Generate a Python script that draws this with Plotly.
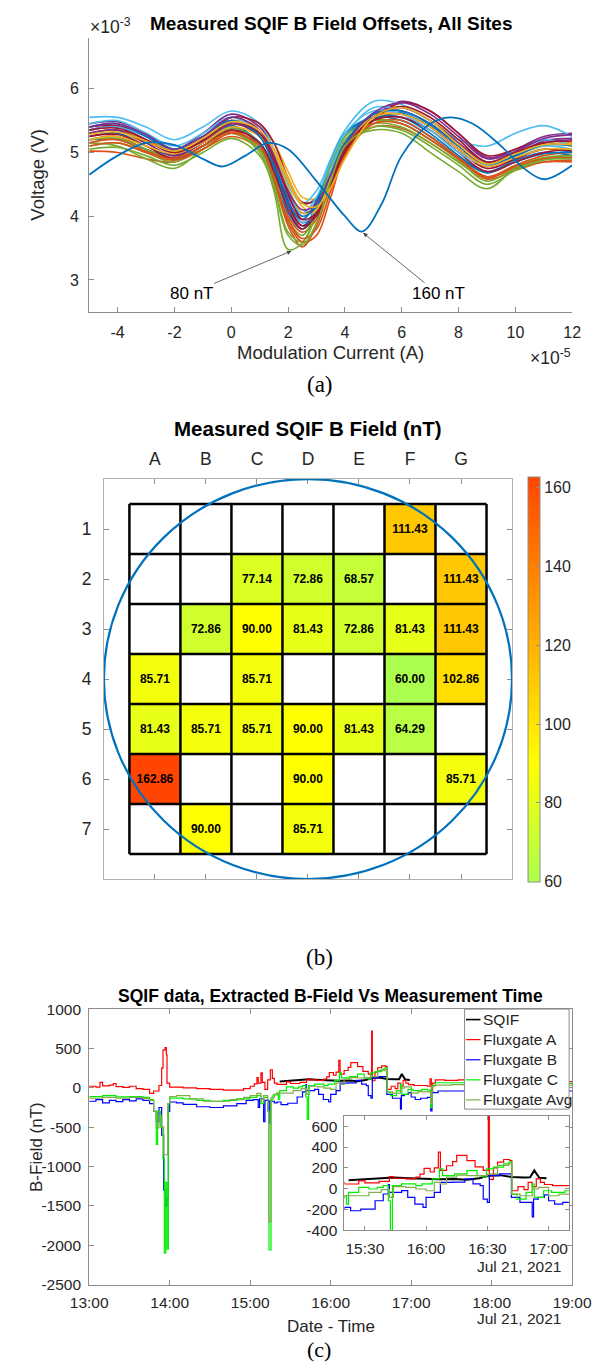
import plotly.graph_objects as go

W, H = 610, 1368
FONT = "Liberation Sans, Arial, Helvetica, sans-serif"
SERIF = "Liberation Serif, Times New Roman, serif"
TXT = "#262626"
AX = "#8c8c8c"


def fx(p):
    return p / W


def fy(p):
    return 1 - p / H


def num_label(v):
    return str(v).replace("−", "-")


# ---------------- Panel (a): SQIF voltage vs modulation current ----------------
# current in units of 1e-5 A, voltage in units of 1e-3 V
current_grid = [-5, -4, -3, -2, -1, 0, 1, 1.5, 2, 2.5, 3, 3.5, 4, 5, 6, 7, 8, 9, 10, 11, 12]

curve_colors = ["#0072BD", "#D95319", "#EDB120", "#7E2F8E", "#77AC30", "#4DBEEE", "#A2142F",
                "#0072BD", "#D95319", "#EDB120", "#7E2F8E", "#77AC30", "#4DBEEE", "#A2142F",
                "#0072BD", "#D95319", "#77AC30", "#7E2F8E", "#A2142F", "#4DBEEE", "#EDB120",
                "#0072BD", "#D95319", "#7E2F8E", "#A2142F", "#77AC30", "#EDB120"]

curve_voltages = [
    [5.35, 5.40, 5.20, 5.02, 5.22, 5.42, 5.15, 4.70, 4.15, 3.85, 4.10, 4.65, 5.10, 5.50, 5.62, 5.42, 5.05, 4.78, 4.92, 5.05, 5.00],
    [5.02, 5.00, 4.90, 4.85, 5.05, 5.25, 5.05, 4.55, 3.85, 3.52, 3.85, 4.50, 5.05, 5.40, 5.38, 5.15, 4.85, 4.58, 4.72, 4.85, 4.85],
    [5.25, 5.30, 5.15, 5.05, 5.25, 5.50, 5.40, 5.15, 4.70, 4.30, 4.28, 4.55, 4.95, 5.50, 5.72, 5.55, 5.15, 4.85, 5.00, 5.15, 5.10],
    [5.45, 5.48, 5.30, 5.05, 5.30, 5.60, 5.40, 5.05, 4.55, 4.20, 4.28, 4.70, 5.10, 5.55, 5.80, 5.65, 5.30, 4.92, 5.05, 5.25, 5.30],
    [5.15, 5.10, 4.90, 4.75, 5.05, 5.30, 5.00, 4.40, 3.48, 3.58, 4.05, 4.70, 5.15, 5.35, 5.30, 5.00, 4.70, 4.43, 4.75, 4.90, 4.92],
    [5.55, 5.55, 5.40, 5.20, 5.40, 5.65, 5.45, 5.05, 4.50, 4.20, 4.40, 4.90, 5.35, 5.80, 5.75, 5.50, 5.20, 5.10, 5.30, 5.42, 5.25],
    [5.40, 5.42, 5.25, 5.00, 5.20, 5.55, 5.45, 5.15, 4.60, 4.22, 4.25, 4.55, 5.00, 5.50, 5.78, 5.65, 5.30, 4.95, 5.05, 5.20, 5.15],
    [5.25, 5.30, 5.10, 4.95, 5.15, 5.40, 5.10, 4.60, 4.05, 3.80, 4.20, 4.80, 5.25, 5.55, 5.55, 5.30, 4.95, 4.70, 4.88, 5.00, 4.95],
    [5.20, 5.25, 5.05, 4.92, 5.15, 5.35, 5.05, 4.55, 4.00, 3.75, 3.95, 4.55, 5.15, 5.50, 5.45, 5.20, 4.90, 4.62, 4.80, 4.95, 5.00],
    [5.30, 5.35, 5.20, 5.05, 5.20, 5.45, 5.30, 5.00, 4.55, 4.15, 4.05, 4.40, 4.95, 5.60, 5.65, 5.40, 5.05, 4.80, 4.95, 5.10, 5.15],
    [5.35, 5.40, 5.20, 4.98, 5.20, 5.50, 5.25, 4.80, 4.25, 3.90, 4.05, 4.55, 5.05, 5.60, 5.70, 5.50, 5.15, 4.85, 4.98, 5.18, 5.22],
    [5.10, 5.15, 5.00, 4.85, 5.10, 5.30, 5.05, 4.50, 3.75, 3.60, 4.05, 4.70, 5.20, 5.45, 5.40, 5.15, 4.85, 4.60, 4.78, 4.92, 4.95],
    [5.45, 5.50, 5.30, 5.10, 5.30, 5.55, 5.30, 4.85, 4.20, 3.90, 4.10, 4.70, 5.25, 5.70, 5.65, 5.40, 5.05, 4.85, 5.00, 5.20, 5.10],
    [5.30, 5.35, 5.15, 4.95, 5.15, 5.45, 5.25, 4.85, 4.20, 3.85, 4.00, 4.50, 5.05, 5.55, 5.60, 5.40, 5.05, 4.75, 4.90, 5.05, 5.02],
    [5.20, 5.20, 5.05, 4.90, 5.10, 5.35, 5.15, 4.75, 4.20, 3.95, 4.25, 4.85, 5.30, 5.55, 5.50, 5.25, 4.92, 4.68, 4.85, 4.98, 5.00],
    [5.10, 5.15, 5.00, 4.88, 5.05, 5.30, 5.10, 4.60, 3.90, 3.60, 3.70, 4.30, 4.95, 5.45, 5.50, 5.25, 4.92, 4.62, 4.75, 4.85, 4.88],
    [5.20, 5.22, 5.05, 4.90, 5.10, 5.38, 5.15, 4.65, 3.95, 3.70, 4.10, 4.80, 5.25, 5.50, 5.45, 5.20, 4.88, 4.55, 4.75, 4.90, 4.95],
    [5.30, 5.35, 5.15, 4.95, 5.15, 5.45, 5.30, 4.95, 4.40, 4.05, 4.15, 4.60, 5.10, 5.60, 5.65, 5.45, 5.10, 4.80, 4.95, 5.15, 5.20],
    [5.25, 5.28, 5.10, 4.90, 5.10, 5.35, 5.15, 4.70, 4.10, 3.80, 4.05, 4.60, 5.10, 5.50, 5.55, 5.35, 5.00, 4.70, 4.85, 5.00, 5.05],
    [5.35, 5.40, 5.25, 5.05, 5.25, 5.50, 5.30, 4.90, 4.35, 4.05, 4.30, 4.85, 5.30, 5.65, 5.60, 5.35, 5.00, 4.80, 4.95, 5.10, 5.05],
    [5.20, 5.25, 5.10, 4.98, 5.15, 5.40, 5.25, 4.95, 4.45, 4.05, 4.10, 4.60, 5.10, 5.55, 5.60, 5.40, 5.05, 4.78, 4.92, 5.05, 5.05],
    [5.40, 5.45, 5.25, 5.05, 5.25, 5.50, 5.25, 4.80, 4.30, 4.00, 4.15, 4.65, 5.15, 5.60, 5.65, 5.45, 5.10, 4.82, 4.95, 5.12, 5.10],
    [5.15, 5.20, 5.02, 4.90, 5.10, 5.32, 5.10, 4.60, 3.95, 3.65, 3.80, 4.40, 5.00, 5.45, 5.45, 5.20, 4.90, 4.60, 4.78, 4.90, 4.92],
    [5.40, 5.45, 5.28, 5.05, 5.25, 5.55, 5.35, 4.95, 4.40, 4.10, 4.20, 4.65, 5.10, 5.62, 5.78, 5.60, 5.25, 4.90, 5.02, 5.22, 5.28],
    [5.35, 5.38, 5.20, 5.00, 5.18, 5.48, 5.30, 4.90, 4.35, 3.95, 4.05, 4.50, 5.00, 5.55, 5.72, 5.55, 5.20, 4.85, 5.00, 5.15, 5.18],
    [5.05, 5.08, 4.95, 4.80, 5.00, 5.22, 4.95, 4.45, 3.70, 3.55, 3.90, 4.55, 5.10, 5.40, 5.35, 5.10, 4.80, 4.50, 4.72, 4.88, 4.90],
    [5.28, 5.32, 5.18, 5.02, 5.22, 5.48, 5.35, 5.05, 4.60, 4.20, 4.15, 4.45, 4.90, 5.55, 5.70, 5.50, 5.12, 4.82, 4.98, 5.12, 5.12],
]

outlier_current = [-5, -4, -3, -2, -1, -0.3, 0.5, 1.3, 2, 3, 4, 4.6, 5.3, 6, 7, 7.7, 8.5, 9.5, 10.3, 11, 12]
outlier_voltage = [4.65, 4.95, 5.15, 5.12, 4.90, 4.78, 4.95, 5.15, 5.05, 4.55, 4.00, 3.76, 4.20, 4.95, 5.45, 5.55, 5.45, 5.10, 4.75, 4.58, 4.80]
current_ticks = [-4, -2, 0, 2, 4, 6, 8, 10, 12]
voltage_ticks = [3, 4, 5, 6]

# ---------------- Panel (b): site map ----------------
site_cols = ["A", "B", "C", "D", "E", "F", "G"]
site_rows = [1, 2, 3, 4, 5, 6, 7]
site_field = [
    [None, None, None, None, None, 111.43, None],
    [None, None, 77.14, 72.86, 68.57, None, 111.43],
    [None, 72.86, 90.00, 81.43, 72.86, 81.43, 111.43],
    [85.71, None, 85.71, None, None, 60.00, 102.86],
    [81.43, 85.71, 85.71, 90.00, 81.43, 64.29, None],
    [162.86, None, None, 90.00, None, None, 85.71],
    [None, 90.00, None, 85.71, None, None, None],
]
cbar_ticks = [60, 80, 100, 120, 140, 160]
field_min, field_max = 60.0, 162.86

# ---------------- Panel (c): B field vs time ----------------
DAY = "2021-07-21 "
sqif = [("15:22", 80), ("15:30", 92), ("15:36", 102), ("15:44", 108), ("15:52", 100), ("15:59", 92),
        ("16:06", 90), ("16:14", 92), ("16:20", 85), ("16:26", 100), ("16:31", 125), ("16:36", 130),
        ("16:42", 112), ("16:48", 108), ("16:51", 110), ("16:53", 175), ("16:55:30", 105), ("16:59", 100)]

fluxgate_a = [("13:00", 20), ("13:05", 10), ("13:08", 70), ("13:10", 25), ("13:15", 35), ("13:18", 55),
              ("13:20", 15), ("13:25", 5), ("13:30", 20), ("13:35", -10), ("13:40", -20), ("13:45", -70),
              ("13:48", -40), ("13:52", 30), ("13:54", 250), ("13:55", 480), ("13:56:30", 510),
              ("13:57:30", 420), ("13:58", 60), ("14:00", 10), ("14:10", 0), ("14:20", -10), ("14:30", -20),
              ("14:40", -30), ("14:50", -30), ("14:55", -10), ("15:00", 20), ("15:03", 50), ("15:05", 130),
              ("15:06", 60), ("15:08", 190), ("15:09", 70), ("15:11", -20), ("15:13", 100), ("15:15", 230),
              ("15:16:30", 120), ("15:18", 60), ("15:20", 45), ("15:27", 75), ("15:30", 55), ("15:37", 70),
              ("15:42", 115), ("15:44", 100), ("15:50", 95), ("15:55", 110), ("15:57", 140), ("15:59", 195),
              ("16:02", 160), ("16:04", 200), ("16:06", 350), ("16:07", 175), ("16:10", 220), ("16:13", 260),
              ("16:15", 320), ("16:20", 270), ("16:24", 210), ("16:28", 175), ("16:30:30", 720), ("16:31", 90),
              ("16:33", 200), ("16:35", 255), ("16:38", 280), ("16:41", 270), ("16:42", -20), ("16:45", 20),
              ("16:48", -10), ("16:50", 60), ("16:52", 20), ("16:54", 95), ("16:56", 60), ("16:58", 40),
              ("17:02", 30), ("17:07", 30), ("17:12", 20), ("17:14", 115), ("17:15", -60), ("17:16", 60),
              ("17:18", 100), ("17:25", 95), ("17:35", 100), ("17:50", 90), ("18:10", 90), ("18:30", 85),
              ("18:50", 80), ("19:00", 80)]

fluxgate_b = [("13:00", -170), ("13:05", -150), ("13:10", -190), ("13:15", -160), ("13:20", -175),
              ("13:25", -150), ("13:30", -165), ("13:35", -140), ("13:40", -160), ("13:45", -200),
              ("13:48", -300), ("13:50", -430), ("13:52", -250), ("13:54", -600), ("13:55:30", -1300),
              ("13:57", -1500), ("13:58", -1400), ("13:59", -300), ("14:00", -180), ("14:05", -190),
              ("14:10", -210), ("14:20", -240), ("14:30", -250), ("14:40", -230), ("14:50", -200),
              ("14:57", -160), ("15:02", -150), ("15:06", -250), ("15:07", -140), ("15:10", -430),
              ("15:11", -160), ("15:14", -450), ("15:15", -170), ("15:18", -190), ("15:20", -180),
              ("15:23", -212), ("15:28", -196), ("15:35", -116), ("15:39", -51), ("15:41:30", 40),
              ("15:42", -35), ("15:48", -19), ("15:51", -84), ("15:54:30", -148), ("15:58:30", -180),
              ("16:00", -84), ("16:04", -35), ("16:07", 60), ("16:13", 62), ("16:19", 94), ("16:23", 46),
              ("16:26:30", 29), ("16:28", -100), ("16:30", -132), ("16:31", 126), ("16:36", 142),
              ("16:41:48", -84), ("16:46", -132), ("16:52", -270), ("16:52:40", -100), ("16:55", -84),
              ("16:58", -60), ("17:00", -116), ("17:03", -148), ("17:07", -132), ("17:12", -120),
              ("17:14:30", -294), ("17:15:30", -60), ("17:20", -40), ("17:40", -40), ("18:00", -45),
              ("18:30", -40), ("19:00", -40)]

fluxgate_c = [("13:00", -110), ("13:10", -100), ("13:20", -115), ("13:30", -110), ("13:40", -120),
              ("13:45", -150), ("13:48", -300), ("13:50", -720), ("13:51", -300), ("13:53", -500),
              ("13:55", -900), ("13:56", -2100), ("13:57", -1200), ("13:58", -2050), ("13:59", -200),
              ("14:00", -130), ("14:10", -140), ("14:20", -160), ("14:30", -170), ("14:40", -160),
              ("14:50", -140), ("15:00", -120), ("15:05", -100), ("15:08", -200), ("15:10", -120),
              ("15:13", -300), ("15:14", -2060), ("15:15:30", -150), ("15:17", -90), ("15:20", -68),
              ("15:21", -148), ("15:22", -35), ("15:27", 13), ("15:32", -3), ("15:36", 13), ("15:39", 29),
              ("15:41:30", -116), ("15:42:30", -400), ("15:43:30", 29), ("15:48", 46), ("15:55", 29),
              ("15:58", 46), ("16:03", 94), ("16:06:30", 191), ("16:08", 126), ("16:14", 142),
              ("16:20", 174), ("16:25", 126), ("16:28", 110), ("16:29:36", 190), ("16:33", 207),
              ("16:38", 239), ("16:40:30", 255), ("16:42", -52), ("16:44:30", -100), ("16:49", -35),
              ("16:52", 45), ("16:53", -84), ("16:57:36", -20), ("17:01:30", -35), ("17:08", -20),
              ("17:12", -30), ("17:14:30", -250), ("17:15:30", 30), ("17:18", 65), ("17:30", 65),
              ("18:00", 60), ("18:30", 55), ("19:00", 55)]

fluxgate_avg = [("13:00", -130), ("13:10", -120), ("13:20", -130), ("13:30", -120), ("13:40", -135),
                ("13:45", -160), ("13:48", -300), ("13:50", -510), ("13:52", -350), ("13:54", -500),
                ("13:55:30", -850), ("13:58", -850), ("13:58:30", -200), ("14:00", -110), ("14:05", -100),
                ("14:15", -140), ("14:25", -170), ("14:35", -170), ("14:45", -150), ("14:55", -120),
                ("15:00", -100), ("15:05", -70), ("15:08", -180), ("15:10", -100), ("15:13", -300),
                ("15:13:48", -1700), ("15:15:30", -120), ("15:18", -80), ("15:20", -68), ("15:25", -68),
                ("15:32", -35), ("15:38", -10), ("15:42", -84), ("15:44", 20), ("15:50", 13), ("15:55", -3),
                ("16:00", -20), ("16:04", 60), ("16:07", 45), ("16:10", 110), ("16:15", 130), ("16:20", 125),
                ("16:26", 126), ("16:30", 142), ("16:35", 223), ("16:40:30", 239), ("16:42", -52),
                ("16:46", -68), ("16:52", -3), ("16:55", 13), ("17:00", -68), ("17:05", -52), ("17:12", -50),
                ("17:14:30", -200), ("17:15:30", 20), ("17:18", 35), ("17:30", 40), ("18:00", 40),
                ("18:30", 35), ("19:00", 35)]

series_c = [("SQIF", sqif, "#000000", 2.0, "linear"),
            ("Fluxgate A", fluxgate_a, "#ff0000", 1.2, "hv"),
            ("Fluxgate B", fluxgate_b, "#0000ff", 1.2, "hv"),
            ("Fluxgate C", fluxgate_c, "#00ee00", 1.2, "hv"),
            ("Fluxgate Avg", fluxgate_avg, "#80ad4a", 1.2, "hv")]

main_hours = ["13:00", "14:00", "15:00", "16:00", "17:00", "18:00", "19:00"]
inset_hours = ["15:30", "16:00", "16:30", "17:00"]
main_field_ticks = [1000, 500, 0, -500, -1000, -1500, -2000, -2500]
inset_field_ticks = [600, 400, 200, 0, -200, -400]

fig = go.Figure()

# panel (a) traces
for col, vals in zip(curve_colors, curve_voltages):
    fig.add_trace(go.Scatter(x=current_grid, y=vals, mode="lines", line=dict(color=col, width=1.6, shape="spline"),
                             xaxis="x", yaxis="y", showlegend=False, hoverinfo="skip"))
fig.add_trace(go.Scatter(x=outlier_current, y=outlier_voltage, mode="lines",
                         line=dict(color="#0072BD", width=1.8, shape="spline"),
                         xaxis="x", yaxis="y", showlegend=False, hoverinfo="skip"))

# panel (b) heatmap
cell_text = [[("%.2f" % v) if v is not None else "" for v in row] for row in site_field]
fig.add_trace(go.Heatmap(
    z=site_field, x=list(range(1, len(site_cols) + 1)), y=site_rows, text=cell_text,
    texttemplate="%{text}", textfont=dict(family=FONT, size=12, color="black", weight="bold"),
    colorscale=[[0, "#adff4f"], [(90 - field_min) / (field_max - field_min), "#ffff00"], [1, "#ff4500"]],
    zmin=field_min, zmax=field_max, xaxis="x2", yaxis="y2", hoverinfo="skip",
    colorbar=dict(x=fx(544), xanchor="left", xref="paper", y=fy(678.5), yanchor="middle", yref="paper",
                  len=405, lenmode="pixels", thickness=12, thicknessmode="pixels", xpad=0, ypad=0,
                  tickvals=cbar_ticks, ticks="inside", ticklen=4, tickcolor=AX,
                  outlinewidth=1, outlinecolor=AX,
                  tickfont=dict(family=FONT, size=16, color=TXT))))

# panel (c) traces: main and inset
for axx, axy in (("x3", "y3"), ("x4", "y4")):
    for name, data, col, lw, shape in series_c:
        ts = [DAY + t for t, _ in data]
        vs = [v for _, v in data]
        fig.add_trace(go.Scatter(x=ts, y=vs, mode="lines", name=name,
                                 line=dict(color=col, width=lw, shape=shape),
                                 xaxis=axx, yaxis=axy, showlegend=False, hoverinfo="skip"))

base = dict(showgrid=False, zeroline=False, showline=True, linecolor=AX, linewidth=1,
            ticks="inside", ticklen=5, tickcolor=AX, tickwidth=1,
            tickfont=dict(family=FONT, size=16, color=TXT))

fig.update_layout(
    width=W, height=H, autosize=False, margin=dict(l=0, r=0, t=0, b=0),
    paper_bgcolor="white", plot_bgcolor="white", showlegend=False,
    xaxis=dict(base, domain=[fx(75), fx(591)], range=[-5, 12], tickvals=current_ticks,
               ticktext=[num_label(v) for v in current_ticks], anchor="y", ticklabelstandoff=6),
    yaxis=dict(base, domain=[fy(306.7), fy(29)], range=[2.5, 6.8], tickvals=voltage_ticks, anchor="x",
               ticklabelstandoff=6),
    xaxis2=dict(base, domain=[fx(90.7), fx(526.7)], range=[0, 8], side="top", mirror="ticks",
                tickvals=list(range(1, 8)), ticktext=site_cols, anchor="y2", linecolor="#b0b0b0",
                tickfont=dict(family=FONT, size=17.5, color=TXT), ticklabelstandoff=6),
    yaxis2=dict(base, domain=[fy(881), fy(476)], range=[8, 0], mirror="ticks", tickvals=site_rows,
                anchor="x2", linecolor="#b0b0b0", tickfont=dict(family=FONT, size=17.5, color=TXT),
                ticklabelstandoff=8),
    xaxis3=dict(base, domain=[fx(75), fx(591)], type="date", range=[DAY + "13:00", DAY + "19:00"],
                tickvals=[DAY + h for h in main_hours], ticktext=main_hours, mirror="ticks", anchor="y3",
                tickfont=dict(family=FONT, size=15.5, color=TXT), ticklabelstandoff=4),
    yaxis3=dict(base, domain=[fy(1291.7), fy(1012.7)], range=[-2500, 1000], tickvals=main_field_ticks,
                ticktext=[num_label(v) for v in main_field_ticks],
                mirror="ticks", anchor="x3", tickfont=dict(family=FONT, size=15.5, color=TXT),
                ticklabelstandoff=4),
    xaxis4=dict(base, domain=[fx(347.7), fx(587.5)], type="date", range=[DAY + "15:20", DAY + "17:10"],
                tickvals=[DAY + h for h in inset_hours], ticktext=inset_hours, mirror="ticks", anchor="y4",
                ticklen=4, tickfont=dict(family=FONT, size=15.5, color=TXT), ticklabelstandoff=4),
    yaxis4=dict(base, domain=[fy(1236.7), fy(1120.7)], range=[-400, 700],
                tickvals=inset_field_ticks, ticktext=[num_label(v) for v in inset_field_ticks],
                mirror="ticks", anchor="x4", ticklen=4,
                tickfont=dict(family=FONT, size=15.5, color=TXT), ticklabelstandoff=3),
)

# panel (b) grid lines and wafer outline
shapes = []
ncol, nrow = len(site_cols), len(site_rows)
for k in range(ncol + 1):
    shapes.append(dict(type="line", xref="x2", yref="y2", x0=0.5 + k, x1=0.5 + k, y0=0.5, y1=nrow + 0.5,
                       line=dict(color="black", width=2.5)))
for k in range(nrow + 1):
    shapes.append(dict(type="line", xref="x2", yref="y2", x0=0.5, x1=ncol + 0.5, y0=0.5 + k, y1=0.5 + k,
                       line=dict(color="black", width=2.5)))
shapes.append(dict(type="circle", xref="x2", yref="y2", x0=0, x1=ncol + 1, y0=0, y1=nrow + 1,
                   line=dict(color="#0072BD", width=2.2)))

# custom legend for panel (c)
shapes.append(dict(type="rect", xref="paper", yref="paper", x0=fx(476), x1=fx(587.7), y0=fy(1114), y1=fy(1012.7),
                   line=dict(color=AX, width=1), fillcolor="white"))
leg_y = [1023.3, 1043.6, 1064.0, 1084.3, 1104.6]
annotations = []
for (name, data, col, lw, shape), yy in zip(series_c, leg_y):
    shapes.append(dict(type="line", xref="paper", yref="paper", x0=fx(477.5), x1=fx(493), y0=fy(yy), y1=fy(yy),
                       line=dict(color=col, width=1.6 if name == "SQIF" else 1.2)))
    annotations.append(dict(text=name, xref="paper", yref="paper", x=fx(494), y=fy(yy), xanchor="left",
                            yanchor="middle", showarrow=False, font=dict(family=FONT, size=15.5, color=TXT)))


def txt(text, x, y, size, family=FONT, angle=0, xanchor="center", color=TXT):
    annotations.append(dict(text=text, xref="paper", yref="paper", x=fx(x), y=fy(y), xanchor=xanchor,
                            yanchor="middle", showarrow=False, textangle=angle,
                            font=dict(family=family, size=size, color=color)))


txt("<b>Measured SQIF B Field Offsets, All Sites</b>", 333.4, 15, 19, color="black")
txt("×10<sup>-3</sup>", 74, 17, 17.5, xanchor="left")
txt("Voltage (V)", 20, 168, 18.5, angle=-90)
txt("Modulation Current (A)", 332.3, 348, 18.5)
txt("×10<sup>-5</sup>", 592, 352, 17.5, xanchor="right")
txt("(a)", 322, 380, 23, family=SERIF, color="black")

txt("<b>Measured SQIF B Field (nT)</b>", 309, 425, 20.5, color="black")
txt("(b)", 321, 960, 23, family=SERIF, color="black")

txt("<b>SQIF data, Extracted B-Field Vs Measurement Time</b>", 333, 999, 17.5, color="black")
txt("B-Field (nT)", 18.5, 1152, 17, angle=-90)
txt("Date - Time", 333.6, 1334, 17)
txt("Jul 21, 2021", 534, 1326, 15.5)
txt("Jul 21, 2021", 534, 1273, 15.5)
txt("(c)", 321, 1357, 22, family=SERIF, color="black")

# arrows in panel (a)
annotations.append(dict(text="80 nT", x=2.116, y=3.455, ax=-1.416, ay=2.794, xref="x", yref="y",
                        axref="x", ayref="y", showarrow=True, arrowhead=2, arrowsize=1.1, arrowwidth=0.8,
                        arrowcolor="#404040", standoff=0, font=dict(family=FONT, size=17, color="black")))
annotations.append(dict(text="160 nT", x=4.64, y=3.739, ax=7.28, ay=2.785, xref="x", yref="y",
                        axref="x", ayref="y", showarrow=True, arrowhead=2, arrowsize=1.1, arrowwidth=0.8,
                        arrowcolor="#404040", standoff=0, font=dict(family=FONT, size=17, color="black")))

fig.update_layout(shapes=shapes, annotations=annotations)
fig.write_html("out.html")
